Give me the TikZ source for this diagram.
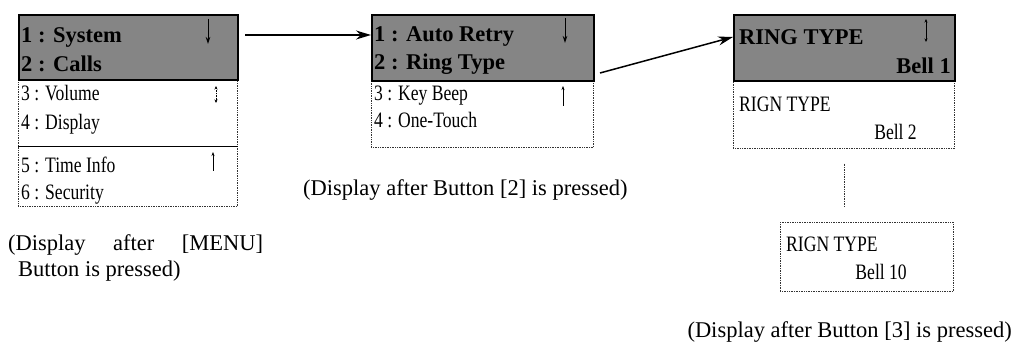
\documentclass[tikz,border=0pt]{standalone}
\usepackage{fontspec}
\setmainfont{Liberation Serif}
\newfontfamily\lcdfont[FakeStretch=0.8]{Liberation Serif}
\usetikzlibrary{calc,arrows.meta}
\tikzset{hdr/.style = {draw, line width=1.6pt, fill=black!48, anchor=north west, inner sep=0pt},
         lcd/.style = {draw=black!80, densely dotted, line width=0.7pt, anchor=north west, inner sep=0pt},
         hline/.style = {font=\fontsize{22.5}{26}\selectfont\bfseries, inner sep=0pt},
         bline/.style = {font=\lcdfont\fontsize{22}{25}\selectfont, inner sep=0pt},
         capt/.style = {font=\fontsize{22.5}{27}\selectfont, inner sep=0pt},
         flow/.style = {line width=1.5pt, -{Stealth[length=15pt,width=9pt]}},
         scrl/.style = {line width=1pt, -{Stealth[length=7pt,width=4.5pt]}},
         upar/.style = {line width=0.6pt, -{Stealth[length=4pt,width=3pt]}},
         updn/.style = {line width=0.6pt, densely dotted, {Stealth[length=3.5pt,width=3pt]}-{Stealth[length=3.5pt,width=3pt]}}}

\begin{document}
\begin{tikzpicture}[x=1pt, y=-1pt]
\useasboundingbox (0,0) rectangle (1021,352);

% main menu
\node[lcd, minimum width=219pt, minimum height=127pt] (m1) at (18,79) {};
\node[hdr, minimum width=219pt, minimum height=65pt] (h1) at (18,14) {};
\draw[line width=0.8pt] ($(m1.north west)+(0,67)$) -- ($(m1.north east)+(0,67)$);
\node[hline, anchor=base west] (s1) at (21,43) {1 : System};
\node[hline, anchor=base west] (s2) at (21,72) {2 : Calls};
\node[bline, anchor=base west] (s3) at (21,101) {3 : Volume};
\node[bline, anchor=base west] (s4) at (21,130) {4 : Display};
\node[bline, anchor=base west] (s5) at (21,173) {5 : Time Info};
\node[bline, anchor=base west] (s6) at (21,200) {6 : Security};
\draw[scrl] (208,19) -- (208,44);
\draw[updn] (216,86) -- (216,103);
\draw[upar] (213,171) -- (213,152);

% calls menu
\node[lcd, minimum width=222pt, minimum height=67pt] (m2) at (371,80) {};
\node[hdr, minimum width=222pt, minimum height=66pt] (h2) at (371,14) {};
\node[hline, anchor=base west] (c1) at (374,42) {1 : Auto Retry};
\node[hline, anchor=base west] (c2) at (374,70) {2 : Ring Type};
\node[bline, anchor=base west] (c3) at (374,101) {3 : Key Beep};
\node[bline, anchor=base west] (c4) at (374,128) {4 : One-Touch};
\draw[scrl] (565,18) -- (565,43);
\draw[upar] (563,106) -- (563,86);

% ring type
\node[lcd, minimum width=221pt, minimum height=68pt] (m3) at (733,80) {};
\node[hdr, minimum width=221pt, minimum height=66pt] (h3) at (733,14) {};
\node[hline, anchor=base west] (r1) at (739,45) {RING TYPE};
\node[hline, anchor=base east] (r2) at (951,74) {Bell 1};
\node[bline, anchor=base west] (r3) at (739,112) {RIGN TYPE};
\node[bline, anchor=base east] (r4) at (917,140) {Bell 2};
\draw[updn, solid] (926,19) -- (926,42);

\node[lcd, minimum width=173pt, minimum height=69pt] (m4) at (780,222) {};
\node[bline, anchor=base west] (r5) at (786,252) {RIGN TYPE};
\node[bline, anchor=base east] (r6) at (907,280) {Bell 10};
\draw[draw=black!80, densely dotted, line width=0.7pt] ($(m3.south)+(0,15)$) -- ($(m3.south)+(0,59)$);

% arrows
\coordinate (a1) at (245,35);
\draw[flow] (a1) -- (a1 -| h2.west);
\coordinate (a2) at (600,73);
\draw[flow] (a2) -- ($(h3.north west)+(0,23)$);

% captions
\node[capt, anchor=base west] (p1) at (8,251) {\makebox[255pt][s]{(Display after [MENU]}};
\node[capt, anchor=base west] (p2) at (18,277) {Button is pressed)};
\node[capt, anchor=base west] (p3) at (303,196) {(Display after Button [2] is pressed)};
\node[capt, anchor=base east] (p4) at (1012,338) {(Display after Button [3] is pressed)};
\end{tikzpicture}
\end{document}
